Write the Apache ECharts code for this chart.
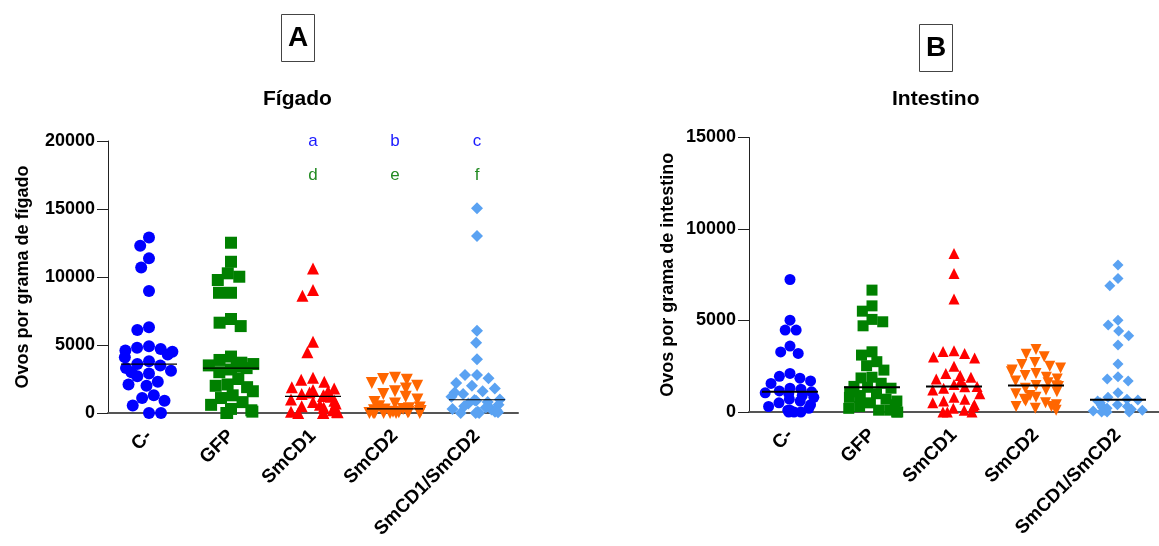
<!DOCTYPE html>
<html>
<head>
<meta charset="utf-8">
<script src="https://cdn.jsdelivr.net/npm/echarts@6/dist/echarts.min.js"></script>
</head>
<body style="margin:0;background:#fff">
<div id="main" style="width:1159px;height:546px;"></div>
<script>
// grupos e cores
var grupos = ['C-', 'GFP', 'SmCD1', 'SmCD2', 'SmCD1/SmCD2'];
var cores = ['#0000ff', '#008000', '#ff0000', '#ff6600', '#5aa2f2'];
var simbolos = ['circle', 'rect', 'triangle', 'triangle', 'diamond'];
var rotacoes = [0, 0, 0, 180, 0];

// A - Fígado (ovos por grama)
var figadoC = [12900, 12300, 11370, 10700, 8970, 6300, 6100, 4900, 4800, 4700, 4600, 4500, 4300, 4100, 3800, 3600,
    3500, 3300, 3100, 3000, 2900, 2700, 2300, 2100, 2000, 1300, 1100, 900, 550, 0, 0];
var figadoGFP = [12520, 11120, 10270, 10020, 9780, 8840, 8840, 6910, 6640, 6390, 4150, 3900, 3700, 3600, 3500, 3400,
    3300, 3200, 3000, 2500, 2100, 2000, 1900, 1600, 1300, 1100, 800, 600, 300, 200, 100, 0, 0];
var figadoCD1 = [10630, 9040, 8620, 5240, 4460, 2600, 2450, 2300, 1900, 1800, 1700, 1600, 1500, 1400, 1300, 1250,
    1200, 1000, 900, 800, 700, 600, 500, 400, 300, 200, 100, 100, 50, 0, 0, 0];
var figadoCD2 = [2600, 2500, 2450, 2200, 2000, 1800, 1600, 1400, 1200, 1000, 800, 700, 500, 400, 350, 300,
    250, 200, 150, 150, 100, 100, 50, 50, 0, 0, 0, 0, 0, 0, 0];
var figadoCD12 = [15050, 13010, 6050, 5170, 3950, 2800, 2800, 2550, 2200, 2000, 1800, 1600, 1500, 1400, 1200, 1000,
    950, 900, 800, 700, 600, 500, 400, 300, 250, 200, 100, 100, 50, 0, 0, 0];

// B - Intestino (ovos por grama)
var intestC = [7240, 5020, 4480, 4480, 3600, 3280, 3200, 2110, 1950, 1850, 1700, 1560, 1300, 1250, 1150, 1100,
    1050, 1000, 900, 800, 700, 600, 500, 400, 300, 200, 100, 100, 0, 0, 0];
var intestGFP = [6660, 5800, 5510, 5060, 4930, 4710, 3290, 3110, 2750, 2530, 2290, 1900, 1860, 1570, 1400, 1350,
    1300, 1100, 1000, 900, 800, 700, 600, 500, 400, 300, 200, 100, 100, 0, 0];
var intestCD1 = [8660, 7570, 6170, 3350, 3300, 3200, 3000, 2950, 2500, 2100, 2000, 1900, 1800, 1700, 1500, 1400,
    1380, 1300, 1200, 1000, 800, 700, 600, 500, 400, 300, 200, 100, 0, 0, 0];
var intestCD2 = [3420, 3150, 3020, 2700, 2600, 2500, 2400, 2300, 2200, 2100, 2000, 1900, 1800, 1700, 1600, 1450,
    1440, 1400, 1300, 1200, 1100, 1000, 900, 800, 700, 600, 500, 400, 300, 300, 200, 100];
var intestCD12 = [8030, 7300, 6900, 5020, 4750, 4420, 4170, 3660, 2620, 1930, 1800, 1700, 1050, 800, 700, 650,
    600, 500, 400, 350, 300, 250, 200, 150, 100, 100, 50, 0, 0, 0];

// letras de significância (grupos SmCD1, SmCD2, SmCD1/SmCD2)
var letrasGrupos = ['SmCD1', 'SmCD2', 'SmCD1/SmCD2'];
var letrasSup = ['a', 'b', 'c'];
var letrasInf = ['d', 'e', 'f'];
var nivelSup = 20000, nivelInf = 17500;

var figado = [figadoC, figadoGFP, figadoCD1, figadoCD2, figadoCD12];
var intestino = [intestC, intestGFP, intestCD1, intestCD2, intestCD12];

function mediana(arr) {
    var s = arr.slice().sort(function (a, b) { return a - b; });
    var m = Math.floor(s.length / 2);
    return s.length % 2 ? s[m] : (s[m - 1] + s[m]) / 2;
}

var fonte = '"Liberation Sans", Arial, sans-serif';
var series = [];

function pontos(lista, idx, tam) {
    lista.forEach(function (vals, i) {
        series.push({
            type: 'scatter', xAxisIndex: idx, yAxisIndex: idx,
            symbol: simbolos[i], symbolRotate: rotacoes[i], symbolSize: tam,
            itemStyle: { color: cores[i], opacity: 1 },
            data: vals.map(function (v) { return [grupos[i], v]; })
        });
    });
    // linha da mediana
    series.push({
        type: 'custom', xAxisIndex: idx, yAxisIndex: idx, z: 10,
        renderItem: function (params, api) {
            var p = api.coord([api.value(0), api.value(1)]);
            return {
                type: 'line',
                shape: { x1: p[0] - 28, y1: p[1], x2: p[0] + 28, y2: p[1] },
                style: { stroke: '#000', lineWidth: idx === 0 ? 1.2 : 2 }
            };
        },
        data: lista.map(function (vals, i) { return [grupos[i], mediana(vals)]; })
    });
}

function letras(textos, nivel, cor) {
    series.push({
        type: 'custom', xAxisIndex: 0, yAxisIndex: 0,
        renderItem: function (params, api) {
            var p = api.coord([api.value(0), api.value(1)]);
            return {
                type: 'text',
                style: { text: textos[params.dataIndex], x: p[0], y: p[1], fill: cor,
                    font: '17px ' + fonte, textAlign: 'center', textVerticalAlign: 'middle' }
            };
        },
        data: letrasGrupos.map(function (g) { return [g, nivel]; })
    });
}

pontos(figado, 0, 12);
pontos(intestino, 1, 11);
letras(letrasSup, nivelSup, '#1a1aff');
letras(letrasInf, nivelInf, '#228b22');

function eixoX(idx) {
    return {
        type: 'category', gridIndex: idx, data: grupos,
        jitter: 52, jitterOverlap: false, jitterMargin: 0,
        axisLine: { lineStyle: { color: '#555', width: 2 } },
        axisTick: { alignWithLabel: true, length: 4, lineStyle: { color: '#222' } },
        axisLabel: { rotate: 45, margin: 20, color: '#000', fontWeight: 'bold', fontSize: 19, fontFamily: fonte }
    };
}
function eixoY(idx, max, nome, gap) {
    return {
        type: 'value', gridIndex: idx, min: 0, max: max, interval: 5000,
        name: nome, nameLocation: 'middle', nameGap: gap,
        nameTextStyle: { color: '#000', fontWeight: 'bold', fontSize: 18, fontFamily: fonte },
        axisLine: { show: true, lineStyle: { color: '#222', width: 1 } },
        axisTick: { show: true, length: 11, lineStyle: { color: '#222' } },
        splitLine: { show: false },
        axisLabel: { color: '#000', fontWeight: 'bold', fontSize: 18, fontFamily: fonte, margin: 13,
            formatter: function (v) { return String(v); } }
    };
}

var myChart = echarts.init(document.getElementById('main'));
var option = {
    animation: false,
    backgroundColor: '#fff',
    title: [
        { text: 'A', left: 281, top: 14, padding: [10, 7], borderColor: '#444', borderWidth: 1,
          textStyle: { fontSize: 28, fontWeight: 'bold', color: '#000', fontFamily: fonte } },
        { text: 'Fígado', left: 258, top: 84,
          textStyle: { fontSize: 21, fontWeight: 'bold', color: '#000', fontFamily: fonte } },
        { text: 'B', left: 919, top: 24, padding: [10, 7], borderColor: '#444', borderWidth: 1,
          textStyle: { fontSize: 28, fontWeight: 'bold', color: '#000', fontFamily: fonte } },
        { text: 'Intestino', left: 887, top: 84,
          textStyle: { fontSize: 21, fontWeight: 'bold', color: '#000', fontFamily: fonte } }
    ],
    grid: [
        { left: 108, top: 141, width: 410, height: 272 },
        { left: 749, top: 137.5, width: 412, height: 274.5 }
    ],
    xAxis: [eixoX(0), eixoX(1)],
    yAxis: [
        eixoY(0, 20000, 'Ovos por grama de fígado', 76),
        eixoY(1, 15000, 'Ovos por grama de intestino', 72)
    ],
    series: series
};
myChart.setOption(option);
</script>
</body>
</html>
